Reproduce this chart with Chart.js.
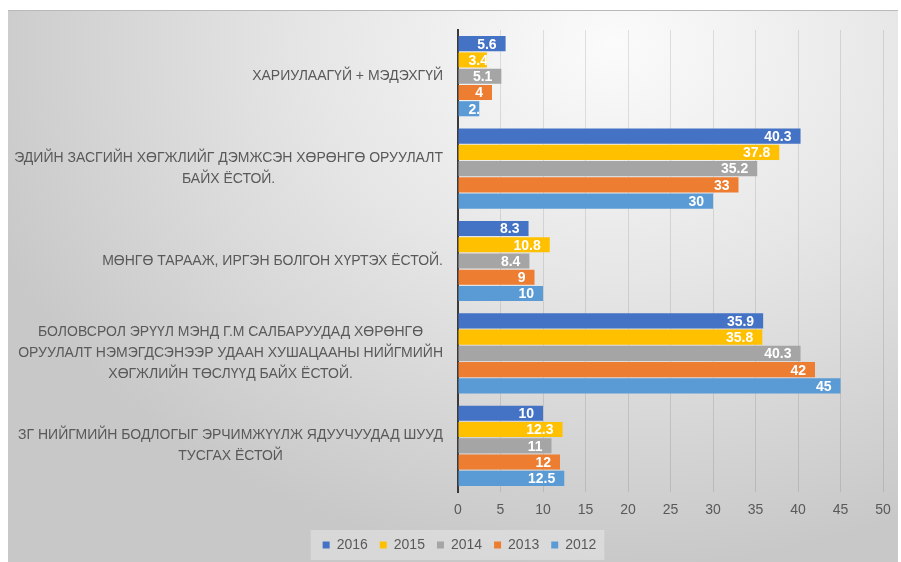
<!DOCTYPE html>
<html lang="mn">
<head>
    <meta charset="UTF-8">
    <title>Chart</title>
    <style>
        body { margin: 0; background: #fff; }
        #wrap { position: relative; width: 901px; height: 562px; }
        #frame {
            position: absolute; left: 8px; top: 10px; width: 890px; height: 552px;
            border-top: 1px solid #b9b9b9;
            background: radial-gradient(ellipse 75% 95% at 68% 6%, #fbfbfb 0%, #e6e6e6 45%, #c8c8c8 100%);
        }
        canvas { position: absolute; left: 0; top: 0; }
    </style>
    <script src="https://cdn.jsdelivr.net/npm/chart.js@4.4.0/dist/chart.umd.min.js"></script>
</head>
<body>
<div id="wrap">
    <div id="frame"></div>
    <canvas id="chart" width="901" height="562"></canvas>
</div>
<script>
    const FONT = '"Liberation Sans", Arial, sans-serif';

    const categories = [
        ['ХАРИУЛААГҮЙ + МЭДЭХГҮЙ'],
        ['ЭДИЙН ЗАСГИЙН ХӨГЖЛИЙГ ДЭМЖСЭН ХӨРӨНГӨ ОРУУЛАЛТ', 'БАЙХ ЁСТОЙ.'],
        ['МӨНГӨ ТАРААЖ, ИРГЭН БОЛГОН ХҮРТЭХ ЁСТОЙ.'],
        ['БОЛОВСРОЛ ЭРҮҮЛ МЭНД Г.М САЛБАРУУДАД ХӨРӨНГӨ', 'ОРУУЛАЛТ НЭМЭГДСЭНЭЭР УДААН ХУШАЦААНЫ НИЙГМИЙН', 'ХӨГЖЛИЙН ТӨСЛҮҮД БАЙХ ЁСТОЙ.'],
        ['ЗГ НИЙГМИЙН БОДЛОГЫГ ЭРЧИМЖҮҮЛЖ ЯДУУЧУУДАД ШУУД', 'ТУСГАХ ЁСТОЙ']
    ];

    const years = ['2016', '2015', '2014', '2013', '2012'];
    const colors = ['#4472C4', '#FFC000', '#A5A5A5', '#ED7D31', '#5B9BD5'];

    const values2016 = [5.6, 40.3, 8.3, 35.9, 10];
    const values2015 = [3.4, 37.8, 10.8, 35.8, 12.3];
    const values2014 = [5.1, 35.2, 8.4, 40.3, 11];
    const values2013 = [4, 33, 9, 42, 12];
    const values2012 = [2.5, 30, 10, 45, 12.5];
    const seriesValues = [values2016, values2015, values2014, values2013, values2012];

    const xMin = 0, xMax = 50, xStep = 5;

    // legend backdrop + category labels (centered per label, right aligned as block)
    const decor = {
        id: 'decor',
        beforeDraw(chart) {
            const lg = chart.legend;
            if (!lg || !lg.legendHitBoxes || !lg.legendHitBoxes.length) return;
            const hb = lg.legendHitBoxes;
            const first = hb[0], last = hb[hb.length - 1];
            const ctx = chart.ctx;
            ctx.save();
            ctx.fillStyle = 'rgba(255,255,255,0.3)';
            ctx.fillRect(first.left - 12, first.top - 8, last.left + last.width + 8 - (first.left - 12), first.height + 16);
            ctx.restore();
        },
        afterDraw(chart) {
            const ctx = chart.ctx;
            const yScale = chart.scales.y;
            const rightEdge = chart.chartArea.left - 15;
            ctx.save();
            ctx.font = '14px ' + FONT;
            ctx.fillStyle = '#595959';
            ctx.textAlign = 'center';
            ctx.textBaseline = 'middle';
            const lineH = 21;
            categories.forEach((lines, i) => {
                const yc = yScale.getPixelForTick(i);
                const w = Math.max(...lines.map(l => ctx.measureText(l).width));
                const xc = rightEdge - w / 2;
                lines.forEach((l, k) => {
                    ctx.fillText(l, xc, yc + (k - (lines.length - 1) / 2) * lineH);
                });
            });
            ctx.restore();
        },
        afterDatasetsDraw(chart) {
            const ctx = chart.ctx;
            ctx.save();
            ctx.font = 'bold 14px ' + FONT;
            ctx.fillStyle = '#ffffff';
            ctx.textAlign = 'left';
            ctx.textBaseline = 'middle';
            chart.data.datasets.forEach((ds, i) => {
                chart.getDatasetMeta(i).data.forEach((bar, j) => {
                    const txt = String(ds.data[j]);
                    const w = ctx.measureText(txt).width;
                    let tx = Math.max(bar.x - 9 - w, bar.base + 10);
                    ctx.save();
                    ctx.beginPath();
                    ctx.rect(bar.base, bar.y - bar.height / 2, bar.x - bar.base, bar.height);
                    ctx.clip();
                    ctx.fillText(txt, tx, bar.y + 1);
                    ctx.restore();
                });
            });
            ctx.restore();
        }
    };

    new Chart(document.getElementById('chart').getContext('2d'), {
        type: 'bar',
        data: {
            labels: categories,
            datasets: years.map((y, i) => ({
                label: y,
                data: seriesValues[i],
                backgroundColor: colors[i],
                borderWidth: 0,
                categoryPercentage: 0.88,
                barPercentage: 0.93
            }))
        },
        options: {
            indexAxis: 'y',
            responsive: false,
            animation: false,
            devicePixelRatio: 1,
            layout: { padding: { top: 30, right: 18, left: 36, bottom: 0 } },
            scales: {
                x: {
                    min: xMin,
                    max: xMax,
                    ticks: { stepSize: xStep, color: '#595959', font: { family: FONT, size: 14 }, padding: 10 },
                    grid: { color: 'rgba(0,0,0,0.1)', drawTicks: false },
                    border: { display: false },
                    afterFit(s) { s.height = 34; }
                },
                y: {
                    ticks: { display: false },
                    grid: { display: false },
                    border: { display: true, color: '#3a3a3a', width: 2 },
                    afterFit(s) { s.width = 422; }
                }
            },
            plugins: {
                legend: {
                    position: 'bottom',
                    labels: {
                        boxWidth: 7,
                        boxHeight: 7,
                        padding: 12,
                        color: '#595959',
                        font: { family: FONT, size: 14, lineHeight: 1 }
                    }
                },
                tooltip: { enabled: false }
            }
        },
        plugins: [decor]
    });
</script>
</body>
</html>
